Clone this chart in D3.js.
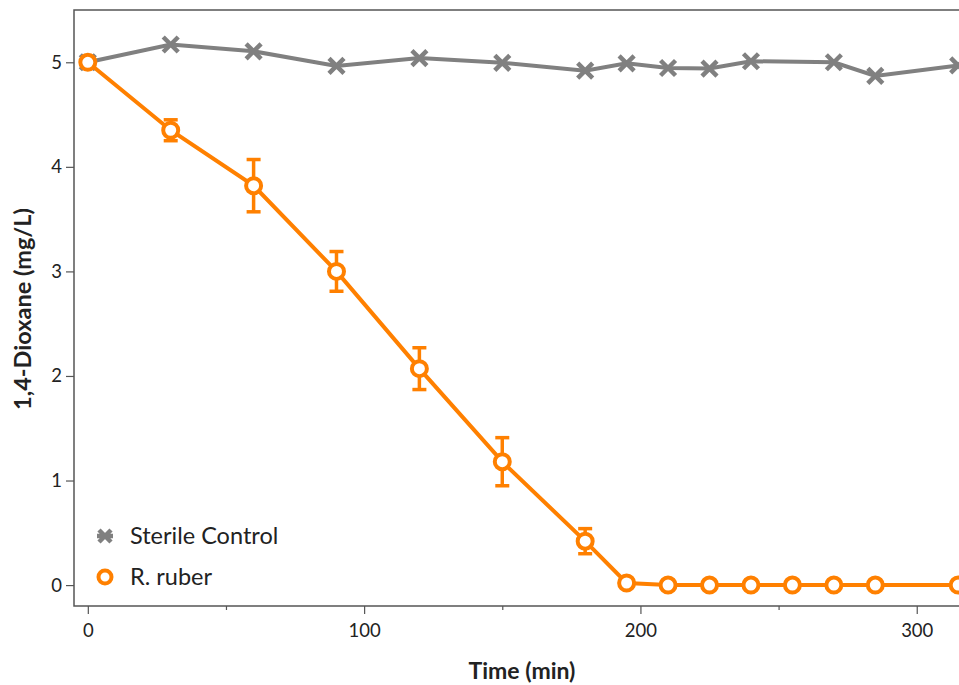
<!DOCTYPE html>
<html>
<head>
<meta charset="utf-8">
<script src="https://cdn.jsdelivr.net/npm/d3@7"></script>
<style>
  body { margin: 0; background: #fff; }
  svg { display: block; font-family: Lato, "Open Sans", sans-serif; }
</style>
</head>
<body>
<div id="viz"></div>
<script>
// sterile control series
var sterileT = [0, 30, 60, 90, 120, 150, 180, 195, 210, 225, 240, 270, 285, 315];
var sterileV = [5.0, 5.17, 5.105, 4.965, 5.04, 4.995, 4.92, 4.99, 4.945, 4.94, 5.01, 5.0, 4.87, 4.97];

// R. ruber series with error
var rubT = [0, 30, 60, 90, 120, 150, 180, 195, 210, 225, 240, 255, 270, 285, 315];
var rubV = [5.0, 4.35, 3.82, 3.0, 2.07, 1.18, 0.42, 0.02, 0, 0, 0, 0, 0, 0, 0];
var rubErr = [0, 0.1, 0.25, 0.19, 0.2, 0.23, 0.12, 0, 0, 0, 0, 0, 0, 0, 0];

var yTicks = [0, 1, 2, 3, 4, 5];
var xTicks = [0, 100, 200, 300];
var xMinor = [50, 150, 250];

var w = 959, h = 685;
var pLeft = 74, pTop = 10, pRight = 972, pBottom = 606;
var gray = '#808080', orange = '#ff8000', axisCol = '#555';

var svg = d3.select('#viz').append('svg')
  .attr('width', w).attr('height', h);

var x = d3.scaleLinear().domain([-5, 320]).range([pLeft, pRight]);
var y = d3.scaleLinear().domain([-0.2, 5.5]).range([pBottom, pTop]);

// frame
svg.append('path')
  .attr('d', 'M' + pRight + ',' + pTop + 'H' + pLeft + 'V' + pBottom + 'H' + pRight)
  .attr('fill', 'none').attr('stroke', axisCol).attr('stroke-width', 1.5);

var yAxis = svg.append('g')
  .attr('transform', 'translate(' + pLeft + ',0)')
  .call(d3.axisLeft(y).tickValues(yTicks).tickSize(8).tickPadding(4).tickFormat(d3.format('d')));
yAxis.select('.domain').remove();
yAxis.selectAll('line').attr('stroke', axisCol).attr('stroke-width', 1.2);
yAxis.selectAll('text').attr('font-size', 18.5).attr('fill', '#222').attr('font-family', 'Lato, sans-serif');

var xAxis = svg.append('g')
  .attr('transform', 'translate(0,' + pBottom + ')')
  .call(d3.axisBottom(x).tickValues(xTicks).tickSize(8).tickPadding(10).tickFormat(d3.format('d')));
xAxis.select('.domain').remove();
xAxis.selectAll('line').attr('stroke', axisCol).attr('stroke-width', 1.2);
xAxis.selectAll('text').attr('font-size', 18.5).attr('fill', '#222').attr('font-family', 'Lato, sans-serif');

var xAxisMinor = svg.append('g')
  .attr('transform', 'translate(0,' + pBottom + ')')
  .call(d3.axisBottom(x).tickValues(xMinor).tickSize(4).tickFormat(''));
xAxisMinor.select('.domain').remove();
xAxisMinor.selectAll('line').attr('stroke', axisCol).attr('stroke-width', 1.2);

// axis titles
svg.append('text')
  .attr('x', 522).attr('y', 679)
  .attr('text-anchor', 'middle')
  .attr('font-size', 23).attr('font-weight', 'bold').attr('fill', '#222')
  .text('Time (min)');

svg.append('text')
  .attr('transform', 'translate(31,309) rotate(-90)')
  .attr('text-anchor', 'middle')
  .attr('font-size', 23.5).attr('font-weight', 'bold').attr('fill', '#222')
  .text('1,4-Dioxane (mg/L)');

var line = d3.line().x(d => x(d[0])).y(d => y(d[1]));

var sterile = sterileT.map((t, i) => [t, sterileV[i]]);
var rub = rubT.map((t, i) => [t, rubV[i], rubErr[i]]);

var crossPath = function(s) {
  return 'M' + (-s) + ',' + (-s) + 'L' + s + ',' + s + 'M' + (-s) + ',' + s + 'L' + s + ',' + (-s);
};

// sterile control
svg.append('path').datum(sterile)
  .attr('d', line).attr('fill', 'none')
  .attr('stroke', gray).attr('stroke-width', 4);

svg.selectAll('.cross').data(sterile).enter()
  .append('path').attr('class', 'cross')
  .attr('transform', d => 'translate(' + x(d[0]) + ',' + y(d[1]) + ')')
  .attr('d', crossPath(7.5))
  .attr('stroke', gray).attr('stroke-width', 4.5).attr('fill', 'none');

// R. ruber
svg.append('path').datum(rub)
  .attr('d', line).attr('fill', 'none')
  .attr('stroke', orange).attr('stroke-width', 4);

var eb = svg.selectAll('.err').data(rub.filter(d => d[2] > 0)).enter()
  .append('g').attr('class', 'err')
  .attr('stroke', orange).attr('stroke-width', 3.5);
eb.append('line')
  .attr('x1', d => x(d[0])).attr('x2', d => x(d[0]))
  .attr('y1', d => y(d[1] + d[2])).attr('y2', d => y(d[1] - d[2]));
eb.append('line')
  .attr('x1', d => x(d[0]) - 7).attr('x2', d => x(d[0]) + 7)
  .attr('y1', d => y(d[1] + d[2])).attr('y2', d => y(d[1] + d[2]));
eb.append('line')
  .attr('x1', d => x(d[0]) - 7).attr('x2', d => x(d[0]) + 7)
  .attr('y1', d => y(d[1] - d[2])).attr('y2', d => y(d[1] - d[2]));

svg.selectAll('.dot').data(rub).enter()
  .append('circle').attr('class', 'dot')
  .attr('cx', d => x(d[0])).attr('cy', d => y(d[1]))
  .attr('r', 7.5)
  .attr('fill', '#fff').attr('stroke', orange).attr('stroke-width', 4);

// legend
var leg = svg.append('g');
leg.append('path')
  .attr('transform', 'translate(105,536)')
  .attr('d', crossPath(6) + 'M-8,0H8')
  .attr('stroke', gray).attr('stroke-width', 4.5).attr('fill', 'none');
leg.append('circle')
  .attr('cx', 105).attr('cy', 577).attr('r', 6.5)
  .attr('fill', '#fff').attr('stroke', orange).attr('stroke-width', 4);
leg.selectAll('text').data(['Sterile Control', 'R. ruber']).enter()
  .append('text')
  .attr('x', 130).attr('y', (d, i) => 536 + i * 41)
  .attr('dy', '0.35em')
  .attr('font-size', 23.5).attr('fill', '#222')
  .text(d => d);
</script>
</body>
</html>
